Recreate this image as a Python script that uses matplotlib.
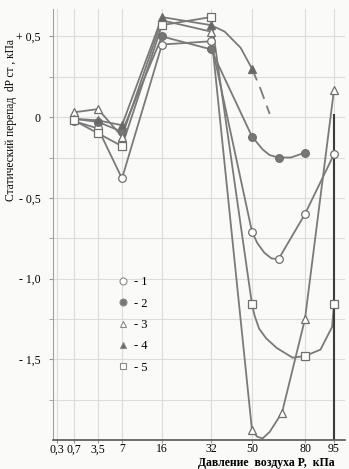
import numpy as np
import matplotlib
matplotlib.use("Agg")
import matplotlib.pyplot as plt
from matplotlib.lines import Line2D

plt.rcParams['font.family'] = ['Liberation Serif', 'DejaVu Serif']

# шкала давления (неравномерная) и значения dP ст, кПа
p_ticks = [0.3, 0.7, 3.5, 7, 16, 32, 50, 80, 95]
p_tick_labels = ["0,3", "0,7", "3,5", "7", "16", "32", "50", "80", "95"]
y_ticks = [0.5, 0, -0.5, -1.0, -1.5]
y_tick_labels = ["+ 0,5", "0", "- 0,5", "- 1,0", "- 1,5"]

# точки (маркеры)
p1 = [0.7, 3.5, 7, 16, 32, 50, 65, 80, 95]
v1 = [-0.025, -0.07, -0.38, 0.45, 0.47, -0.71, -0.88, -0.60, -0.23]
p2 = [0.7, 3.5, 7, 16, 32, 50, 65, 80]
v2 = [-0.01, -0.03, -0.09, 0.50, 0.42, -0.12, -0.25, -0.22]
p3 = [0.7, 3.5, 7, 16, 32, 50, 67, 80, 95]
v3 = [0.03, 0.05, -0.12, 0.60, 0.53, -1.94, -1.83, -1.25, 0.17]
p4 = [0.7, 3.5, 7, 16, 32, 50]
v4 = [-0.01, -0.02, -0.05, 0.62, 0.57, 0.30]
p5 = [0.7, 3.5, 7, 16, 32, 50, 80, 95]
v5 = [-0.02, -0.10, -0.18, 0.57, 0.62, -1.16, -1.48, -1.16]

# промежуточные точки плавных участков кривых
c1_p = [53, 57, 61]
c1_v = [-0.78, -0.84, -0.875]
c2_p = [56, 60, 72]
c2_v = [-0.20, -0.235, -0.25]
c3_p = [53, 56, 60]
c3_v = [-1.98, -1.99, -1.95]
c4_p = [38, 45]
c4_v = [0.53, 0.43]
c5_p = [51.5, 54, 58, 64, 73, 88, 94]
c5_v = [-1.23, -1.31, -1.37, -1.43, -1.49, -1.44, -1.30]

# штриховой участок кривой 4
d4_p = [50, 55, 60]
d4_v = [0.30, 0.17, 0.02]

edge_p = 95
edge_top = 0.02

# положение делений по оси абсцисс
anchor_p = [0, 0.3, 0.7, 3.5, 7, 16, 32, 50, 80, 95, 100]
anchor_x = [53, 57, 74, 98, 122, 162, 211, 252, 305, 334, 345]

def fwd(p):
    return np.interp(p, anchor_p, anchor_x)

def inv(x):
    return np.interp(x, anchor_x, anchor_p)

def curve(p, v, cp, cv):
    pp = np.concatenate([p, cp])
    vv = np.concatenate([v, cv])
    idx = np.argsort(pp, kind="stable")
    return pp[idx], vv[idx]

fig = plt.figure(figsize=(3.49, 4.69), dpi=100)
fig.patch.set_facecolor('#fafaf8')
W, H = 349, 469
ax = fig.add_axes([53 / W, (H - 440) / H, (345 - 53) / W, (440 - 9) / H])
ax.set_facecolor('#fafaf8')
ax.set_xscale('function', functions=(fwd, inv))
ax.set_xlim(0, 100)
ax.set_ylim(-2.0, 0.67)

line_c = '#7a7a7a'
series = [
    (p1, v1, c1_p, c1_v, 'o', 'white', '- 1'),
    (p2, v2, c2_p, c2_v, 'o', '#777777', '- 2'),
    (p3, v3, c3_p, c3_v, '^', 'white', '- 3'),
    (p4, v4, c4_p, c4_v, '^', '#666666', '- 4'),
    (p5, v5, c5_p, c5_v, 's', 'white', '- 5'),
]
handles = []
for p, v, cp, cv, m, fc, lab in series:
    lp, lv = curve(p, v, cp, cv)
    ax.plot(lp, lv, color=line_c, lw=1.3, zorder=2)
    ax.plot(p, v, ls='none', marker=m, ms=5.5, mfc=fc, mec='#6e6e6e', mew=0.9, zorder=3)
    handles.append(Line2D([], [], ls='none', marker=m, ms=5, mfc=fc, mec='#8a8a8a', mew=0.8, label=lab))

ax.plot(d4_p, d4_v, color=line_c, lw=1.3, ls=(0, (7, 4)), zorder=2)
ax.vlines(edge_p, -2.0, edge_top, color='#3c3c3c', lw=1.5, zorder=2)

ax.set_xticks(p_ticks)
ax.set_xticklabels(p_tick_labels, fontsize=8.5)
ax.set_yticks(y_ticks)
ax.set_yticklabels(y_tick_labels, fontsize=8.5)
ax.set_yticks(np.arange(-1.75, 0.6, 0.25), minor=True)
ax.tick_params(axis='x', length=2, color='#999999', pad=0.5)
ax.tick_params(axis='y', which='both', length=3, color='#999999', pad=6)
ax.xaxis.grid(True, which='major', color='#dcdcdc', lw=0.8)
ax.yaxis.grid(True, which='both', color='#dcdcdc', lw=0.8)
for s in ['top', 'right']:
    ax.spines[s].set_visible(False)
ax.spines['left'].set_color('#a0a0a0')
ax.spines['bottom'].set_color('#555555')
ax.spines['bottom'].set_linewidth(1.2)

fig.text(11 / W, 1 - 120 / H, "Статический перепад  dP ст , кПа", rotation=90,
         ha='center', va='center', fontsize=8.3)
fig.text(266 / W, 1 - 463 / H, "Давление  воздуха P,  кПа", ha='center', va='center',
         fontsize=8.5, fontweight='bold')

ax.legend(handles=handles, loc='upper left', bbox_to_anchor=(110 / W, 1 - 270 / H),
          bbox_transform=fig.transFigure, frameon=False, fontsize=9,
          handlelength=1.0, handletextpad=0.4, labelspacing=0.75, borderpad=0)

fig.savefig("out.png", dpi=100)
